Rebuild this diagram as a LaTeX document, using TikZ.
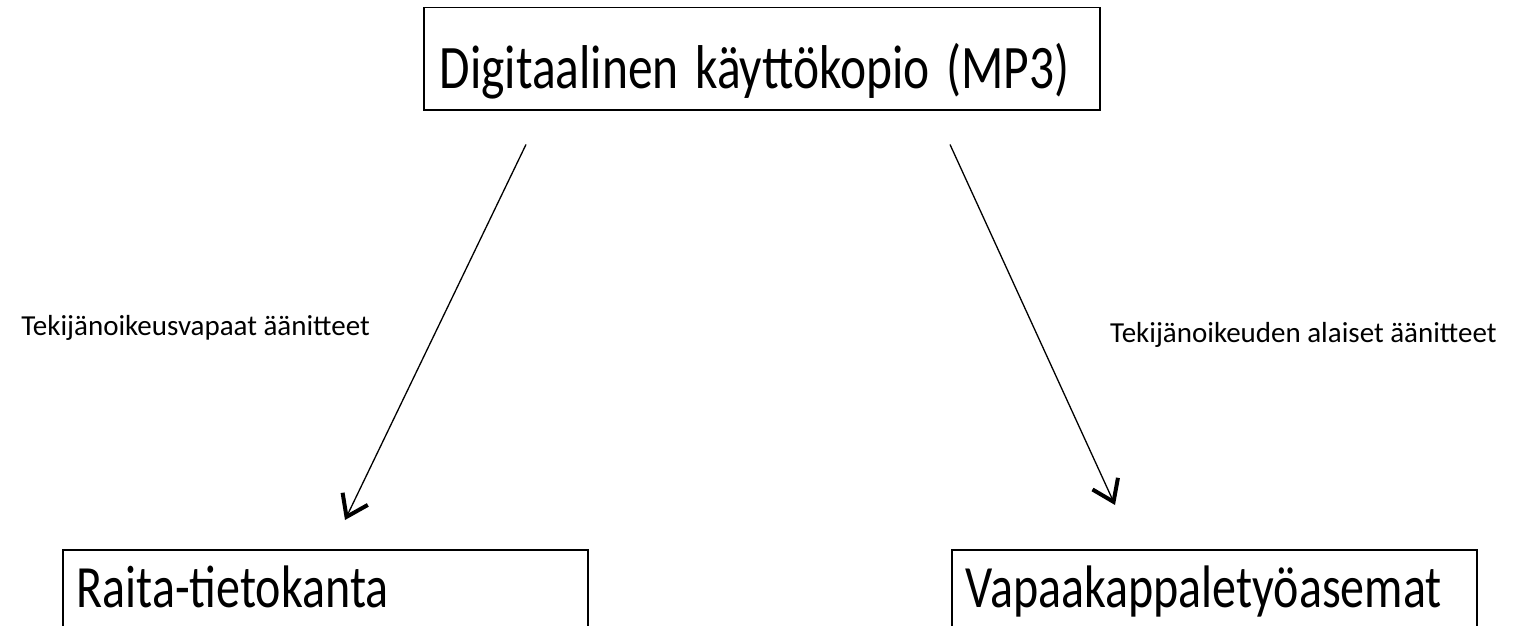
\documentclass[tikz,border=0pt]{standalone}
\usepackage{fontspec}
\setmainfont{Carlito}
\usetikzlibrary{arrows.meta}

\newcommand{\korkea}[1]{\scalebox{1}[1.25]{#1}}

\begin{document}
\begin{tikzpicture}[x=1pt,y=-1pt,
    laatikko/.style={draw,line width=1.5pt,anchor=north west,inner xsep=14pt,inner ysep=0pt,
      align=left,font=\fontsize{48}{58}\selectfont},
    selite/.style={font=\fontsize{29}{34}\selectfont,inner sep=0pt},
    nuoli/.style={-{Straight Barb[length=20pt,width=28pt,line width=4pt]},line width=1.3pt}]
  \useasboundingbox (0,0) rectangle (1515,626);
  \clip (0,0) rectangle (1515,626);

  \node[laatikko, inner xsep=16pt, text width=644pt, text height=81pt, text depth=21pt,
    font=\fontsize{49.5}{58}\selectfont] (dig) at (423,7) {\korkea{Digitaalinen käyttökopio (MP3)}};
  \node[laatikko, text width=497pt, text height=58pt, text depth=80pt] (raita) at (62,549) {\korkea{Raita-tietokanta}};
  \node[laatikko, text width=497pt, text height=58pt, text depth=80pt] (vapaa) at (951,549) {\korkea{Vapaakappaletyöasemat}};

  \node[selite, anchor=east] (vapaat) at (370,328) {Tekijänoikeusvapaat äänitteet};
  \node[selite, anchor=west] (alaiset) at (1110,335) {Tekijänoikeuden alaiset äänitteet};

  % nuolet
  \draw[nuoli] ([xshift=103pt,yshift=-34pt]dig.south west) -- ([xshift=283pt,yshift=29pt]raita.north west);
  \draw[nuoli] ([xshift=527pt,yshift=-34pt]dig.south west) -- ([xshift=164pt,yshift=44pt]vapaa.north west);
\end{tikzpicture}
\end{document}
